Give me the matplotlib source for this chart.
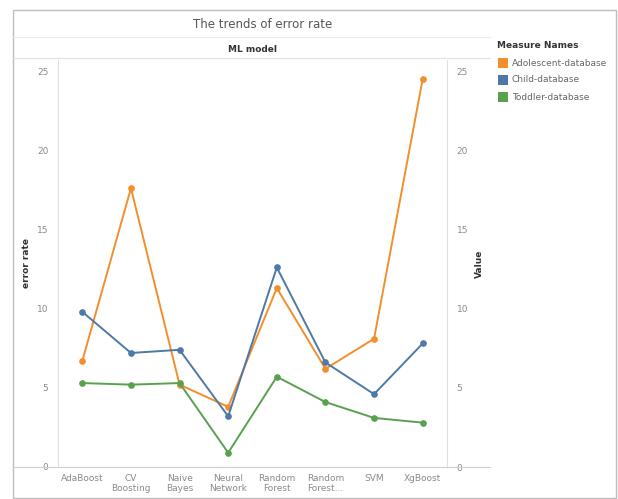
import matplotlib
matplotlib.use("Agg")
import matplotlib.pyplot as plt
from matplotlib.lines import Line2D
from matplotlib.patches import Rectangle

models = ["AdaBoost", "CV\nBoosting", "Naive\nBayes", "Neural\nNetwork",
          "Random\nForest", "Random\nForest...", "SVM", "XgBoost"]
adolescent = [6.7, 17.6, 5.2, 3.8, 11.3, 6.2, 8.1, 24.5]
child = [9.8, 7.2, 7.4, 3.2, 12.6, 6.6, 4.6, 7.8]
toddler = [5.3, 5.2, 5.3, 0.9, 5.7, 4.1, 3.1, 2.8]
series_names = ["Adolescent-database", "Child-database", "Toddler-database"]
yticks = [0, 5, 10, 15, 20, 25]

colors = ["#F28E2B", "#4E79A7", "#59A14F"]
W, H = 618, 499

fig = plt.figure(figsize=(W / 100, H / 100), dpi=100)

def fx(x):
    return x / W

def fy(y):
    return 1 - y / H

def hline(x0, x1, y, c="#d4d4d4", lw=0.8):
    fig.add_artist(Line2D([fx(x0), fx(x1)], [fy(y), fy(y)], color=c, lw=lw, transform=fig.transFigure))

# outer frame
fig.add_artist(Rectangle((fx(13), fy(498)), fx(603), 488 / H, fill=False,
                         edgecolor="#bdbdbd", lw=1.0, transform=fig.transFigure))

# plot area
left, right, top, bottom = 58, 447, 60, 467
ax = fig.add_axes([fx(left), fy(bottom), fx(right - left), (bottom - top) / H])
x = range(len(models))
for vals, c in zip([adolescent, child, toddler], colors):
    ax.plot(x, vals, color=c, lw=1.4, marker="o", ms=3.8, zorder=3)

ax.set_xlim(-0.5, len(models) - 0.5)
ax.set_ylim(0, 25.7)
ax.set_yticks(yticks)
ax.set_yticklabels([str(t) for t in yticks])
ax.set_xticks(list(x))
ax.set_xticklabels(models)
ax.tick_params(axis="both", length=0, labelsize=6.5, colors="#8a8a8a")
ax.tick_params(axis="y", pad=7)
ax.tick_params(axis="x", pad=5)
for s in ["top", "bottom"]:
    ax.spines[s].set_visible(False)
for s in ["left", "right"]:
    ax.spines[s].set_color("#e0e0e0")
    ax.spines[s].set_linewidth(0.8)
ax.set_ylabel("error rate", fontsize=6.5, fontweight="bold", color="#333333", labelpad=4)

ax2 = ax.twinx()
ax2.set_ylim(ax.get_ylim())
ax2.set_yticks(yticks)
ax2.set_yticklabels([str(t) for t in yticks])
ax2.tick_params(axis="y", length=0, labelsize=6.5, colors="#8a8a8a", pad=7)
for s in ax2.spines.values():
    s.set_visible(False)
ax2.set_ylabel("Value", fontsize=6.5, fontweight="bold", color="#333333", labelpad=5)

# header lines
hline(13, 490, bottom, c="#cfcfcf")
hline(13, 490, 37, c="#ececec")
hline(13, 490, 58, c="#e0e0e0")

fig.text(fx(263), fy(25), "The trends of error rate", ha="center", va="center",
         fontsize=8.5, color="#555555")
fig.text(fx((left + right) / 2), fy(49), "ML model", ha="center", va="center",
         fontsize=6.5, color="#333333", fontweight="bold")

# legend
fig.text(fx(497), fy(45), "Measure Names", ha="left", va="center", fontsize=6.5,
         color="#333333", fontweight="bold")
for i, (name, c) in enumerate(zip(series_names, colors)):
    yy = 63 + i * 17
    fig.add_artist(Rectangle((fx(498), fy(yy + 5)), fx(10), 10 / H, facecolor=c,
                             edgecolor="none", transform=fig.transFigure))
    fig.text(fx(512), fy(yy), name, ha="left", va="center", fontsize=6.5, color="#666666")

fig.savefig("out.png", dpi=100)
